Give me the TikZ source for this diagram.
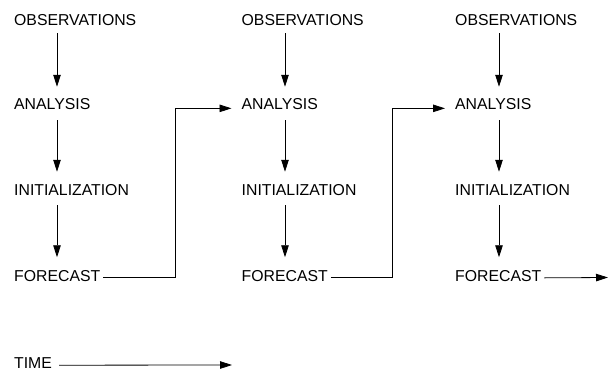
\documentclass[tikz,border=0pt]{standalone}
\usepackage{fontspec}
\setmainfont{Liberation Sans}
\usepackage{tikz}
\usetikzlibrary{arrows.meta,positioning}
\tikzset{
  stage/.style={font=\fontsize{15.8}{18}\selectfont, inner sep=0pt, anchor=base west},
  flow/.style={-{Triangle[length=12pt,width=7.5pt]}, thick},
  link/.style={-{Triangle[length=12pt,width=7.5pt]}, thick, rounded corners=0pt}
}
\begin{document}
\begin{tikzpicture}[x=1pt,y=-1pt]
\useasboundingbox (0,0) rectangle (612,371);

% first cycle
\node[stage] (obs1) at (14,26) {OBSERVATIONS};
\node[stage] (ana1) at (14,110) {ANALYSIS};
\node[stage] (ini1) at (14,196) {INITIALIZATION};
\node[stage] (fc1) at (14,281.5) {FORECAST};

% second cycle
\node[stage] (obs2) at (241.5,26) {OBSERVATIONS};
\node[stage] (ana2) at (241.5,110) {ANALYSIS};
\node[stage] (ini2) at (241.5,196) {INITIALIZATION};
\node[stage] (fc2) at (241.5,281.5) {FORECAST};

% third cycle
\node[stage] (obs3) at (455,26) {OBSERVATIONS};
\node[stage] (ana3) at (455,110) {ANALYSIS};
\node[stage] (ini3) at (455,196) {INITIALIZATION};
\node[stage] (fc3) at (455,281.5) {FORECAST};

\node[stage] (time) at (14,368) {TIME};
\coordinate (next) at (608,277.5);
\coordinate (later) at (232,365);

\draw[flow] ([xshift=43pt,yshift=-7pt]obs1.south west) -- ([xshift=43pt,yshift=12pt]ana1.north west);
\draw[flow] ([xshift=43pt,yshift=-10pt]ana1.south west) -- ([xshift=43pt,yshift=13pt]ini1.north west);
\draw[flow] ([xshift=43pt,yshift=-9pt]ini1.south west) -- ([xshift=43pt,yshift=13pt]fc1.north west);

\draw[flow] ([xshift=43.5pt,yshift=-7pt]obs2.south west) -- ([xshift=43.5pt,yshift=12pt]ana2.north west);
\draw[flow] ([xshift=43.5pt,yshift=-10pt]ana2.south west) -- ([xshift=43.5pt,yshift=13pt]ini2.north west);
\draw[flow] ([xshift=43.5pt,yshift=-9pt]ini2.south west) -- ([xshift=43.5pt,yshift=13pt]fc2.north west);

\draw[flow] ([xshift=44pt,yshift=-7pt]obs3.south west) -- ([xshift=44pt,yshift=12pt]ana3.north west);
\draw[flow] ([xshift=44pt,yshift=-10pt]ana3.south west) -- ([xshift=44pt,yshift=13pt]ini3.north west);
\draw[flow] ([xshift=44pt,yshift=-9pt]ini3.south west) -- ([xshift=44pt,yshift=13pt]fc3.north west);

% forecast feeds the next analysis
\draw[link] ([xshift=3pt,yshift=4pt]fc1.south east) -| ([xshift=-66pt,yshift=2pt]ana2.south west)
  -- ([xshift=-10pt,yshift=2pt]ana2.south west);
\draw[link] ([xshift=3pt,yshift=4pt]fc2.south east) -| ([xshift=-63pt,yshift=2pt]ana3.south west)
  -- ([xshift=-10pt,yshift=2pt]ana3.south west);
\draw[flow] ([xshift=3pt,yshift=4pt]fc3.south east) -- (next);

\draw[flow] ([xshift=7pt,yshift=3pt]time.south east) -- (later);
\end{tikzpicture}
\end{document}
